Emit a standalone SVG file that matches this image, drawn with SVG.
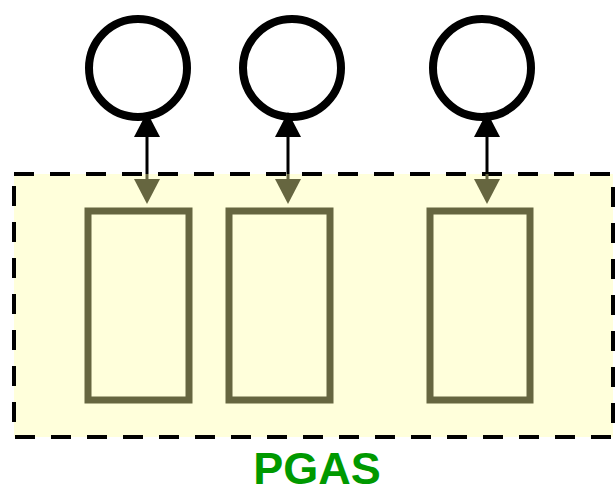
<svg xmlns="http://www.w3.org/2000/svg" width="615" height="493" viewBox="0 0 615 493">
<style>
.pgas{fill:#ffffdb;stroke:#000;stroke-width:4;stroke-dasharray:20 16}
.node{fill:#fff;stroke:#000;stroke-width:8}
.mem{fill:none;stroke:#666640;stroke-width:7}
.lk{stroke:#000;stroke-width:3}
.lki{stroke:#666640;stroke-width:3}
.lbl{font-family:"Liberation Sans",Arial,sans-serif;font-weight:bold;font-size:45px;fill:#009900;text-anchor:middle}
</style>
<g id="pgas">
<rect class="pgas" x="14" y="174" width="599" height="263"/>
<text class="lbl" x="317" y="484">PGAS</text>
</g>
<g id="p1"><circle class="node" cx="138" cy="68" r="49"/></g>
<g id="p2"><circle class="node" cx="292" cy="68" r="49"/></g>
<g id="p3"><circle class="node" cx="482" cy="68" r="49"/></g>
<g id="m1"><rect class="mem" x="88" y="211" width="101" height="189"/></g>
<g id="m2"><rect class="mem" x="229" y="211" width="101" height="189"/></g>
<g id="m3"><rect class="mem" x="430" y="211" width="100" height="189"/></g>
<g id="connectors">
<line class="lk" x1="147" y1="135" x2="147" y2="174"/>
<line class="lki" x1="147" y1="174" x2="147" y2="182"/>
<polygon points="147,112 134,137 160,137" fill="#000"/>
<polygon points="147,204 134,179 160,179" fill="#666640"/>
<line class="lk" x1="288" y1="135" x2="288" y2="174"/>
<line class="lki" x1="288" y1="174" x2="288" y2="182"/>
<polygon points="288,112 275,137 301,137" fill="#000"/>
<polygon points="288,204 275,179 301,179" fill="#666640"/>
<line class="lk" x1="487" y1="135" x2="487" y2="174"/>
<line class="lki" x1="487" y1="174" x2="487" y2="182"/>
<polygon points="487,112 474,137 500,137" fill="#000"/>
<polygon points="487,204 474,179 500,179" fill="#666640"/>
</g>
</svg>
